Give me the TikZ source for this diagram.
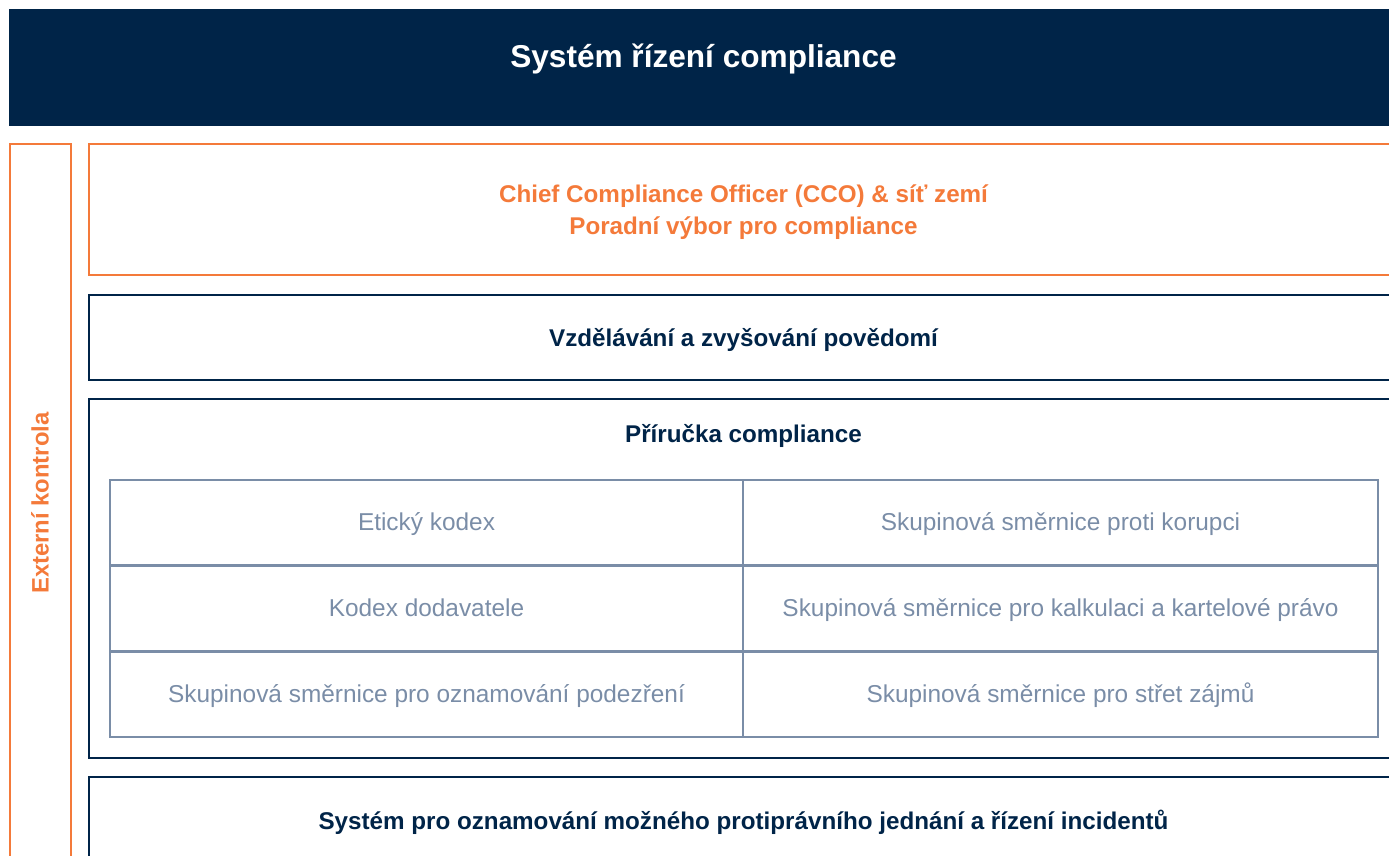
\documentclass[tikz,border=0pt]{standalone}
\usepackage{fontspec}
\setmainfont{Liberation Sans}
\definecolor{navy}{HTML}{002448}
\definecolor{orng}{HTML}{F47A3A}
\definecolor{slate}{HTML}{7A8DA7}
\tikzset{
  obox/.style={draw=orng, line width=2.6pt},
  nbox/.style={draw=navy, line width=2.8pt},
  tbox/.style={draw=slate, line width=2.8pt},
  head/.style={anchor=base, text=navy, font=\fontsize{24.2}{28}\selectfont\bfseries, inner sep=0pt},
  ohead/.style={anchor=base, text=orng, font=\fontsize{24.2}{28}\selectfont\bfseries, inner sep=0pt},
  cell/.style={anchor=base, text=slate, font=\fontsize{24.4}{28}\selectfont, inner sep=0pt},
}
\begin{document}
\begin{tikzpicture}[x=1pt,y=-1pt]
\useasboundingbox (0,0) rectangle (1389,856);
\clip (0,0) rectangle (1389,856);
% title bar
\fill[navy] (9,9) rectangle (1400,126);
\node[anchor=base, text=white, font=\fontsize{31.6}{36}\selectfont\bfseries, inner sep=0pt] (title) at (703.5,68) {Systém řízení compliance};
% external control
\draw[obox] (10,144) rectangle (71,870);
\node[ohead, font=\fontsize{23.8}{28}\selectfont\bfseries, rotate=90] (ext) at (48.5,503) {Externí kontrola};
% CCO box
\draw[obox] (89,144) rectangle (1400,275);
\node[ohead] (cco1) at (743.5,202.5) {Chief Compliance Officer (CCO) \& síť zemí};
\node[ohead] (cco2) at (743.5,234.5) {Poradní výbor pro compliance};
% education
\draw[nbox] (89,295) rectangle (1400,380);
\node[head] (edu) at (743.5,346.5) {Vzdělávání a zvyšování povědomí};
% handbook
\draw[nbox] (89,399) rectangle (1400,758);
\node[head] (hb) at (743.5,442.5) {Příručka compliance};
% table
\draw[tbox] (110,480) rectangle (1378,737);
\draw[tbox] (743,480) -- (743,737);
\draw[tbox] (110,565.5) -- (1378,565.5);
\draw[tbox] (110,651.5) -- (1378,651.5);
\node[cell] (c11) at (426.5,530) {Etický kodex};
\node[cell] (c12) at (1060.5,530) {Skupinová směrnice proti korupci};
\node[cell] (c21) at (426.5,616) {Kodex dodavatele};
\node[cell] (c22) at (1060.5,616) {Skupinová směrnice pro kalkulaci a kartelové právo};
\node[cell] (c31) at (426.5,702) {Skupinová směrnice pro oznamování podezření};
\node[cell] (c32) at (1060.5,702) {Skupinová směrnice pro střet zájmů};
% incidents
\draw[nbox] (89,777) rectangle (1400,900);
\node[head] (inc) at (743.5,829.5) {Systém pro oznamování možného protiprávního jednání a řízení incidentů};
\end{tikzpicture}
\end{document}
